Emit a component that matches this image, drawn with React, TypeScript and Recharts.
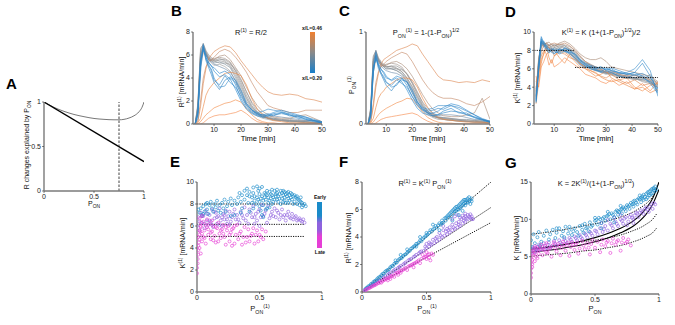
import React from 'react';
import { ComposedChart, Line, Scatter, XAxis, YAxis } from 'recharts';

const FONT = '"Liberation Sans", Arial, Helvetica, sans-serif';

// ---------- Panel A ----------
const A_LIN_P = [0, 1];
const A_LIN_V = [1, 0.33];
const A_CURVE_P = [0, 0.1, 0.2, 0.3, 0.4, 0.5, 0.6, 0.7, 0.75, 0.8, 0.85, 0.9, 0.95, 0.98, 1];
const A_CURVE_V = [1, 0.94, 0.895, 0.86, 0.835, 0.815, 0.805, 0.8, 0.8, 0.805, 0.82, 0.845, 0.89, 0.94, 1];
const A_MARK_P = [0.75, 0.75];
const A_MARK_V = [0, 1];

// ---------- Panels B, C, D (time traces) ----------
const T = [3, 4, 5, 6, 7, 8, 9, 10, 12, 14, 16, 18, 20, 22, 24, 26, 28, 30, 32, 35, 38, 41, 44, 47, 50];
const TRACE_COLORS = ['#939393', '#8f8f8f', '#989898', '#929292', '#969696', '#9d8f86', '#7a8c9a', '#6a8aa8', '#a88a74', '#c48866', '#dc8650', '#ec8540', '#f28a45', '#f5884a', '#3588c8', '#2a86cc', '#3a8cca', '#2f84c4', '#2888ce'];

const B_R = [
  [0, 1.8, 6.4, 7.0, 6.4, 6.0, 5.8, 5.6, 5.5, 5.4, 5.0, 4.2, 3.2, 2.2, 1.4, 0.9, 0.6, 0.5, 0.4, 0.3, 0.3, 0.2, 0.2, 0.1, 0.1],
  [0, 1.5, 6.2, 6.8, 6.2, 5.6, 5.5, 5.4, 5.6, 5.6, 5.3, 4.6, 3.6, 2.5, 1.6, 1.0, 0.7, 0.5, 0.4, 0.3, 0.2, 0.2, 0.2, 0.1, 0.1],
  [0, 1.2, 5.6, 6.6, 6.0, 5.7, 5.3, 5.1, 5.2, 5.0, 4.6, 3.7, 2.6, 1.6, 1.0, 0.7, 0.5, 0.4, 0.3, 0.3, 0.2, 0.2, 0.1, 0.1, 0.1],
  [0, 1.6, 6.6, 6.9, 6.3, 5.9, 5.7, 5.5, 5.7, 5.5, 5.1, 4.4, 3.4, 2.3, 1.5, 1.0, 0.7, 0.5, 0.4, 0.3, 0.2, 0.2, 0.1, 0.1, 0.1],
  [0, 1.3, 6.0, 6.7, 6.1, 5.7, 5.6, 5.5, 5.3, 5.3, 5.2, 4.8, 3.9, 2.8, 1.8, 1.1, 0.7, 0.5, 0.4, 0.3, 0.3, 0.2, 0.2, 0.1, 0.1],
  [0, 1.0, 5.4, 6.4, 6.1, 5.8, 5.6, 5.7, 5.8, 5.7, 5.4, 4.6, 3.8, 2.8, 1.9, 1.3, 0.9, 0.6, 0.5, 0.4, 0.4, 0.3, 0.3, 0.3, 0.2],
  [0, 1.5, 6.0, 6.6, 6.2, 5.8, 5.5, 5.3, 5.4, 5.2, 4.9, 4.0, 3.0, 2.0, 1.3, 0.9, 0.6, 0.5, 0.5, 0.4, 0.3, 0.3, 0.2, 0.2, 0.1],
  [0, 1.2, 5.8, 7.0, 6.0, 5.6, 5.4, 5.2, 5.0, 4.8, 4.5, 3.8, 2.8, 1.8, 1.2, 0.8, 0.6, 0.6, 0.7, 0.6, 0.5, 0.4, 0.3, 0.3, 0.2],
  [0, 1.0, 5.0, 6.2, 6.0, 5.6, 5.5, 5.6, 5.9, 6.0, 5.6, 4.9, 4.2, 3.2, 2.3, 1.6, 1.1, 0.8, 0.6, 0.5, 0.5, 0.7, 0.8, 0.5, 0.2],
  [0, 0.3, 2.0, 4.0, 5.0, 5.4, 5.6, 5.8, 6.3, 6.5, 6.3, 5.8, 5.2, 4.5, 3.6, 2.8, 2.2, 1.6, 1.4, 1.2, 1.0, 1.0, 1.2, 1.2, 1.2],
  [0, 0.2, 1.5, 3.5, 4.8, 5.7, 6.0, 6.3, 6.6, 6.8, 6.7, 6.2, 5.5, 4.9, 4.3, 3.7, 3.2, 2.8, 2.6, 2.5, 2.6, 2.5, 2.2, 2.1, 1.9],
  [0, 0.1, 0.5, 1.5, 2.5, 3.0, 3.3, 3.6, 4.0, 4.4, 4.5, 4.4, 4.2, 3.4, 2.2, 1.3, 0.8, 0.5, 0.3, 0.2, 0.1, 0.1, 0.1, 0.1, 0],
  [0, 0, 0.2, 0.5, 0.8, 1.0, 1.2, 1.4, 1.6, 1.8, 1.9, 2.1, 1.9, 1.3, 0.8, 0.4, 0.2, 0.1, 0.1, 0, 0, 0, 0, 0, 0],
  [0, 0, 0, 0.1, 0.3, 0.5, 0.6, 0.7, 0.8, 0.8, 0.9, 1.0, 1.2, 0.9, 0.5, 0.2, 0.1, 0, 0, 0, 0, 0, 0, 0, 0],
  [0, 0.5, 4.5, 6.8, 5.6, 5.2, 4.6, 3.8, 3.4, 4.2, 3.6, 3.2, 2.4, 1.6, 1.1, 0.9, 0.8, 0.9, 0.7, 1.0, 0.9, 0.7, 0.6, 0.4, 0.2],
  [0, 1.0, 5.5, 6.5, 6.0, 5.4, 5.0, 4.9, 4.4, 4.6, 4.3, 3.4, 2.2, 1.4, 1.0, 0.8, 0.7, 0.8, 1.0, 1.2, 1.0, 0.8, 0.6, 0.3, 0.1],
  [0, 0.8, 5.0, 6.9, 5.8, 5.0, 4.8, 4.0, 3.2, 3.3, 4.0, 3.6, 2.6, 1.7, 1.2, 1.0, 1.1, 1.3, 1.2, 1.1, 0.8, 0.5, 0.4, 0.3, 0.2],
  [0, 0.9, 5.2, 6.7, 5.5, 4.9, 4.3, 3.6, 3.0, 3.8, 4.1, 3.8, 2.9, 1.8, 1.2, 0.9, 0.8, 0.7, 0.8, 0.9, 0.8, 0.6, 0.5, 0.3, 0.1],
  [0, 1.1, 5.6, 6.4, 5.8, 5.3, 5.1, 4.6, 4.1, 4.3, 3.9, 3.0, 2.0, 1.3, 0.9, 0.7, 0.6, 0.7, 0.9, 1.0, 0.7, 0.7, 0.4, 0.2, 0.1],
];

const C_P = [
  [0, 0.18, 0.72, 0.8, 0.72, 0.68, 0.65, 0.63, 0.62, 0.6, 0.57, 0.5, 0.4, 0.29, 0.19, 0.12, 0.08, 0.07, 0.06, 0.05, 0.04, 0.03, 0.03, 0.02, 0.02],
  [0, 0.15, 0.7, 0.78, 0.7, 0.64, 0.63, 0.62, 0.63, 0.63, 0.6, 0.54, 0.44, 0.32, 0.21, 0.14, 0.1, 0.07, 0.06, 0.05, 0.04, 0.03, 0.03, 0.02, 0.02],
  [0, 0.14, 0.66, 0.77, 0.7, 0.66, 0.62, 0.6, 0.6, 0.58, 0.54, 0.46, 0.34, 0.22, 0.14, 0.1, 0.07, 0.05, 0.05, 0.04, 0.03, 0.03, 0.02, 0.02, 0.01],
  [0, 0.16, 0.74, 0.79, 0.71, 0.67, 0.64, 0.62, 0.63, 0.61, 0.57, 0.5, 0.41, 0.3, 0.2, 0.13, 0.09, 0.07, 0.05, 0.04, 0.03, 0.03, 0.02, 0.02, 0.01],
  [0, 0.13, 0.68, 0.76, 0.69, 0.65, 0.63, 0.62, 0.6, 0.6, 0.59, 0.55, 0.46, 0.35, 0.23, 0.14, 0.09, 0.06, 0.05, 0.04, 0.04, 0.03, 0.02, 0.02, 0.01],
  [0, 0.1, 0.62, 0.73, 0.69, 0.66, 0.64, 0.65, 0.66, 0.65, 0.62, 0.54, 0.45, 0.34, 0.24, 0.17, 0.12, 0.08, 0.07, 0.06, 0.05, 0.04, 0.04, 0.04, 0.03],
  [0, 0.15, 0.68, 0.76, 0.7, 0.66, 0.62, 0.6, 0.6, 0.58, 0.55, 0.48, 0.38, 0.27, 0.18, 0.12, 0.08, 0.07, 0.07, 0.06, 0.05, 0.05, 0.04, 0.03, 0.02],
  [0, 0.12, 0.65, 0.8, 0.68, 0.63, 0.6, 0.58, 0.56, 0.55, 0.52, 0.46, 0.36, 0.24, 0.16, 0.11, 0.09, 0.09, 0.1, 0.1, 0.09, 0.07, 0.05, 0.05, 0.03],
  [0, 0.1, 0.56, 0.7, 0.68, 0.64, 0.63, 0.64, 0.67, 0.68, 0.65, 0.6, 0.52, 0.42, 0.32, 0.23, 0.16, 0.12, 0.09, 0.08, 0.08, 0.1, 0.12, 0.28, 0.05],
  [0, 0.03, 0.22, 0.45, 0.57, 0.62, 0.65, 0.68, 0.72, 0.75, 0.78, 0.76, 0.68, 0.58, 0.48, 0.4, 0.34, 0.3, 0.28, 0.28, 0.26, 0.22, 0.2, 0.24, 0.3],
  [0, 0.02, 0.18, 0.4, 0.55, 0.65, 0.7, 0.72, 0.76, 0.8, 0.82, 0.84, 0.87, 0.85, 0.76, 0.68, 0.6, 0.52, 0.48, 0.47, 0.45, 0.46, 0.45, 0.48, 0.46],
  [0, 0.01, 0.06, 0.18, 0.28, 0.33, 0.36, 0.4, 0.44, 0.48, 0.5, 0.5, 0.48, 0.4, 0.28, 0.18, 0.11, 0.07, 0.05, 0.04, 0.03, 0.02, 0.02, 0.02, 0.01],
  [0, 0, 0.02, 0.06, 0.1, 0.13, 0.15, 0.17, 0.2, 0.23, 0.25, 0.28, 0.27, 0.2, 0.13, 0.07, 0.04, 0.02, 0.01, 0.01, 0, 0, 0, 0, 0],
  [0, 0, 0, 0.01, 0.03, 0.05, 0.06, 0.07, 0.08, 0.09, 0.1, 0.11, 0.12, 0.1, 0.06, 0.03, 0.01, 0, 0, 0, 0, 0, 0, 0, 0],
  [0, 0.06, 0.55, 0.75, 0.62, 0.56, 0.5, 0.45, 0.42, 0.48, 0.44, 0.4, 0.3, 0.22, 0.16, 0.14, 0.15, 0.17, 0.16, 0.2, 0.18, 0.14, 0.1, 0.06, 0.03],
  [0, 0.1, 0.6, 0.72, 0.66, 0.6, 0.55, 0.5, 0.48, 0.52, 0.5, 0.42, 0.3, 0.2, 0.15, 0.12, 0.12, 0.14, 0.18, 0.22, 0.2, 0.15, 0.1, 0.05, 0.02],
  [0, 0.08, 0.55, 0.78, 0.64, 0.55, 0.52, 0.46, 0.4, 0.42, 0.5, 0.45, 0.34, 0.24, 0.18, 0.16, 0.17, 0.2, 0.2, 0.2, 0.16, 0.1, 0.07, 0.05, 0.03],
  [0, 0.09, 0.58, 0.74, 0.6, 0.54, 0.48, 0.42, 0.36, 0.44, 0.48, 0.46, 0.37, 0.24, 0.16, 0.12, 0.11, 0.1, 0.12, 0.14, 0.13, 0.1, 0.08, 0.05, 0.02],
  [0, 0.11, 0.62, 0.7, 0.64, 0.59, 0.57, 0.52, 0.47, 0.5, 0.46, 0.37, 0.26, 0.17, 0.12, 0.1, 0.09, 0.1, 0.14, 0.17, 0.12, 0.12, 0.07, 0.04, 0.02],
];

const D_K = [
  [3.4, 7.0, 9.0, 8.7, 8.4, 8.6, 8.3, 8.1, 8.4, 8.2, 8.0, 7.5, 6.9, 6.5, 6.1, 5.8, 5.6, 5.4, 5.6, 5.2, 5.0, 4.8, 5.2, 4.6, 3.6],
  [3.2, 6.6, 8.6, 8.9, 8.5, 8.2, 8.4, 8.6, 8.3, 8.5, 8.1, 7.8, 7.0, 6.6, 6.3, 6.0, 5.7, 5.5, 5.3, 5.1, 5.3, 5.0, 4.6, 4.4, 4.0],
  [3.0, 6.4, 8.8, 8.5, 8.3, 8.4, 8.1, 8.0, 8.2, 8.0, 7.9, 7.3, 6.7, 6.3, 6.0, 5.8, 5.9, 5.6, 5.4, 5.2, 5.0, 5.1, 4.9, 4.7, 4.1],
  [3.1, 6.9, 8.9, 8.7, 8.7, 8.5, 8.6, 8.5, 8.6, 8.5, 8.2, 7.8, 7.2, 6.7, 6.4, 6.1, 5.9, 5.6, 5.5, 5.3, 5.1, 4.9, 4.8, 4.5, 4.2],
  [2.9, 6.3, 8.8, 8.8, 8.6, 8.5, 8.4, 8.3, 8.5, 8.3, 8.1, 7.6, 6.9, 6.5, 6.2, 6.0, 5.8, 5.6, 5.4, 5.2, 5.0, 4.9, 4.7, 4.6, 4.3],
  [3.6, 6.6, 8.5, 8.7, 8.8, 8.6, 8.7, 8.6, 8.7, 8.6, 8.4, 8.0, 7.3, 6.8, 6.5, 6.2, 6.0, 5.8, 5.6, 5.5, 5.4, 5.3, 5.1, 4.9, 4.5],
  [2.8, 6.8, 8.8, 8.4, 8.6, 8.2, 8.0, 8.3, 8.1, 7.9, 7.8, 7.2, 6.6, 6.3, 6.0, 5.9, 5.8, 5.6, 5.5, 5.3, 5.1, 5.0, 4.8, 5.4, 4.2],
  [2.6, 6.2, 9.0, 8.3, 8.1, 7.8, 8.2, 8.0, 7.9, 8.1, 7.7, 7.1, 6.5, 6.2, 6.1, 5.9, 5.7, 5.5, 5.7, 5.4, 5.2, 5.0, 5.3, 4.8, 3.4],
  [3.5, 7.2, 8.4, 8.6, 8.8, 8.9, 8.6, 8.4, 8.8, 9.0, 8.7, 8.2, 7.6, 7.2, 7.0, 7.0, 7.2, 6.8, 6.2, 6.0, 5.8, 5.6, 5.4, 5.2, 4.6],
  [3.8, 6.0, 7.8, 8.6, 8.8, 8.5, 8.7, 8.8, 8.6, 8.8, 8.5, 8.0, 7.4, 6.8, 6.4, 6.2, 6.0, 5.6, 5.8, 5.4, 5.2, 5.3, 5.0, 4.8, 4.4],
  [4.0, 5.5, 7.4, 8.0, 7.6, 7.8, 8.2, 7.4, 7.8, 7.6, 7.2, 7.0, 6.6, 6.0, 5.8, 5.5, 5.2, 5.0, 5.4, 4.8, 4.4, 4.8, 4.2, 4.4, 4.0],
  [2.2, 4.5, 6.6, 7.8, 8.4, 7.2, 6.6, 7.4, 8.0, 7.8, 7.4, 6.8, 6.2, 6.0, 5.6, 5.2, 5.4, 5.8, 5.0, 4.6, 4.2, 3.8, 4.0, 3.4, 3.8],
  [4.6, 5.2, 7.0, 7.6, 8.2, 8.4, 7.8, 8.0, 7.2, 6.6, 7.6, 7.2, 6.5, 6.2, 5.8, 5.6, 5.1, 4.8, 4.6, 4.8, 5.0, 4.0, 3.6, 4.2, 4.4],
  [5.2, 4.0, 6.2, 6.8, 7.6, 6.4, 7.0, 6.2, 6.6, 7.2, 6.8, 6.4, 6.0, 5.4, 5.2, 5.0, 4.6, 4.4, 4.8, 4.2, 4.6, 3.8, 4.4, 3.6, 4.6],
  [2.5, 6.0, 9.2, 8.6, 8.2, 8.0, 7.8, 7.6, 8.2, 8.0, 7.8, 7.6, 7.0, 6.6, 6.4, 6.2, 6.0, 6.1, 5.8, 5.6, 5.4, 5.6, 6.6, 5.2, 3.5],
  [3.0, 6.5, 9.5, 8.8, 8.4, 7.9, 8.1, 7.9, 7.7, 8.3, 8.0, 7.4, 6.8, 6.4, 6.2, 6.0, 6.2, 5.8, 5.6, 5.2, 5.0, 5.4, 5.0, 4.6, 3.8],
  [2.4, 5.8, 9.3, 8.7, 8.0, 7.7, 8.0, 8.2, 7.6, 7.9, 7.6, 7.0, 6.4, 6.1, 6.3, 5.9, 5.6, 5.7, 6.0, 5.5, 5.6, 6.0, 7.0, 5.8, 3.0],
  [2.7, 6.1, 9.0, 9.0, 8.5, 8.2, 7.9, 7.7, 7.9, 8.2, 8.0, 7.6, 6.9, 6.5, 6.2, 6.1, 6.2, 5.9, 6.1, 5.8, 5.5, 5.3, 5.5, 5.0, 3.9],
  [2.3, 5.9, 8.9, 8.6, 8.3, 8.1, 8.2, 8.0, 8.1, 7.9, 7.7, 7.2, 6.7, 6.3, 6.0, 5.8, 5.7, 6.0, 5.8, 5.6, 5.4, 5.6, 5.2, 4.4, 3.3],
];

// plateau levels of K(1) (early, middle, late) and their time spans
const LEVELS = [8.0, 6.15, 5.05];
const D_LEVEL_SPANS = [[2.3, 18], [18, 33.5], [34, 50]];
const E_LEVEL_SPAN = [0, 0.86];

// ---------- Panel E: K(1) vs P_ON(1) ----------
const E_BLUE = [
  [0.02, 7.2], [0.03, 7.6], [0.04, 6.9], [0.05, 7.8], [0.06, 7.3], [0.07, 8.0], [0.08, 7.5], [0.09, 7.1], [0.1, 7.9], [0.11, 8.2], [0.12, 7.6], [0.13, 7.3], [0.14, 8.0], [0.15, 7.7], [0.16, 8.3], [0.17, 7.4], [0.18, 7.9], [0.2, 8.1], [0.21, 7.6], [0.22, 8.4], [0.24, 7.8], [0.25, 8.2], [0.27, 8.5], [0.28, 7.9], [0.3, 8.3], [0.32, 8.0], [0.33, 8.6], [0.35, 8.2], [0.36, 7.6], [0.38, 8.4], [0.4, 8.8], [0.41, 8.1], [0.42, 7.3], [0.44, 8.6], [0.45, 9.0], [0.46, 8.3],
  [0.38, 9.2], [0.4, 9.4], [0.42, 9.1], [0.45, 9.5], [0.48, 9.6], [0.5, 9.4], [0.52, 9.55], [0.49, 9.2],
  [0.48, 8.6], [0.5, 8.9], [0.5, 8.2], [0.52, 8.7], [0.53, 7.9], [0.54, 9.0], [0.55, 8.4], [0.56, 8.8], [0.57, 8.1], [0.58, 9.1], [0.59, 8.5], [0.6, 8.8], [0.6, 8.0], [0.62, 9.2], [0.62, 8.4], [0.63, 8.7], [0.64, 9.0], [0.65, 8.2], [0.66, 8.9], [0.67, 9.2], [0.68, 8.5], [0.69, 8.8], [0.7, 9.1], [0.7, 8.3], [0.72, 8.7], [0.72, 9.0], [0.73, 8.1], [0.74, 8.8], [0.75, 9.0], [0.76, 8.4], [0.77, 8.7], [0.78, 8.2], [0.79, 8.6], [0.8, 8.0], [0.81, 8.4], [0.82, 7.9], [0.83, 8.2], [0.84, 7.7], [0.85, 7.9],
  [0.5, 7.8], [0.51, 7.4], [0.52, 7.0], [0.53, 6.8], [0.55, 7.5], [0.56, 7.6], [0.58, 7.7], [0.35, 7.2], [0.3, 7.0], [0.27, 6.9], [0.45, 7.6],
  [0.46, 8.7], [0.47, 8.0], [0.49, 8.4], [0.51, 8.5], [0.53, 8.3], [0.54, 8.6], [0.55, 8.9], [0.57, 8.6], [0.58, 8.3], [0.59, 8.9], [0.61, 8.6], [0.61, 8.2], [0.63, 8.9], [0.64, 8.4], [0.65, 8.7], [0.66, 8.5], [0.67, 8.0], [0.68, 9.0], [0.69, 8.2], [0.7, 8.6], [0.71, 8.9], [0.71, 8.1], [0.73, 8.5], [0.74, 8.3], [0.75, 8.6], [0.76, 8.9], [0.77, 8.0], [0.78, 8.8], [0.8, 8.5], [0.8, 8.7], [0.82, 8.3], [0.83, 8.6], [0.84, 8.1], [0.86, 8.0], [0.87, 7.8], [0.56, 9.2], [0.6, 9.3], [0.64, 9.3], [0.69, 9.2], [0.73, 9.1], [0.44, 8.1], [0.42, 8.7], [0.36, 8.8], [0.34, 9.0],
  [0.01, 7.5], [0.05, 7.1], [0.08, 8.1], [0.19, 7.2], [0.23, 7.3],
];
const E_PURPLE = [
  [0.0, 6.0], [0.01, 6.8], [0.02, 5.6], [0.03, 7.2], [0.04, 6.3], [0.05, 6.9], [0.06, 5.8], [0.07, 7.4], [0.08, 6.5], [0.09, 6.1], [0.1, 7.0], [0.11, 6.4], [0.12, 7.5], [0.13, 5.9], [0.14, 6.7], [0.15, 7.2], [0.16, 6.2], [0.17, 6.9], [0.18, 7.6], [0.19, 6.5], [0.2, 6.0], [0.21, 7.1], [0.22, 6.6], [0.23, 7.4], [0.24, 6.2], [0.25, 6.9], [0.26, 7.3], [0.27, 6.4], [0.28, 6.8], [0.3, 7.5], [0.31, 6.6], [0.32, 7.0], [0.34, 6.3], [0.35, 7.3], [0.37, 6.7], [0.38, 7.7], [0.4, 7.0], [0.41, 6.2], [0.42, 7.5], [0.44, 6.8], [0.45, 7.8], [0.47, 7.1], [0.48, 6.5], [0.5, 7.5], [0.52, 7.9], [0.53, 6.9], [0.55, 7.4], [0.57, 7.8], [0.58, 6.7], [0.6, 7.3], [0.62, 7.6], [0.63, 6.8], [0.65, 7.2], [0.66, 6.6], [0.68, 7.5], [0.7, 7.0], [0.71, 6.5], [0.73, 7.3], [0.74, 6.8], [0.76, 7.1], [0.77, 6.6], [0.79, 6.9], [0.8, 6.5], [0.82, 6.7], [0.84, 6.4], [0.86, 6.3], [0.56, 6.3], [0.5, 6.0], [0.46, 6.2],
  [0.02, 6.4], [0.04, 7.0], [0.06, 6.2], [0.08, 7.1], [0.1, 6.5], [0.12, 6.1], [0.14, 7.3], [0.16, 6.8], [0.18, 6.1], [0.2, 6.8], [0.22, 7.0], [0.24, 6.6], [0.26, 6.1], [0.29, 7.1], [0.33, 6.6], [0.36, 7.0], [0.39, 6.5], [0.43, 7.2], [0.46, 6.8], [0.49, 7.3], [0.51, 6.8], [0.54, 7.1], [0.59, 7.0], [0.61, 6.9], [0.64, 7.4], [0.67, 7.0], [0.69, 6.8], [0.72, 7.0], [0.75, 6.7], [0.78, 6.8], [0.81, 6.6], [0.83, 6.5], [0.85, 6.6],
];
const E_MAGENTA = [
  [0, 1.7], [0, 2.2], [0.005, 2.6], [0.005, 3.0], [0.01, 3.4], [0.01, 3.8], [0.01, 4.2], [0.015, 4.5], [0.02, 4.8], [0.02, 5.2], [0.025, 5.5], [0.03, 5.9], [0.03, 6.3], [0.02, 6.7], [0.04, 6.9],
  [0.04, 4.6], [0.05, 5.0], [0.06, 5.6], [0.07, 4.4], [0.08, 5.9], [0.09, 5.2], [0.1, 6.2], [0.11, 4.8], [0.12, 5.5], [0.13, 6.0], [0.14, 5.1], [0.15, 4.5], [0.16, 5.8], [0.17, 6.3], [0.18, 5.3], [0.19, 4.9], [0.2, 5.7], [0.21, 6.1], [0.22, 5.0], [0.23, 4.3], [0.24, 5.6], [0.25, 6.0], [0.26, 4.6], [0.27, 5.4], [0.28, 4.2], [0.29, 5.8], [0.3, 4.4], [0.31, 5.2], [0.32, 6.1], [0.33, 4.8], [0.35, 5.5], [0.36, 4.3], [0.38, 5.9], [0.4, 5.0], [0.41, 5.7], [0.42, 4.6], [0.44, 5.3], [0.45, 5.8], [0.46, 4.4], [0.48, 5.6], [0.5, 5.2], [0.52, 5.7], [0.53, 4.8], [0.55, 5.5], [0.05, 6.4], [0.08, 6.6], [0.12, 6.5], [0.02, 4.0], [0.03, 3.5],
  [0.01, 5.0], [0.02, 5.6], [0.03, 6.0], [0.04, 5.3], [0.06, 4.9], [0.07, 6.1], [0.09, 5.7], [0.11, 5.4], [0.13, 4.7], [0.15, 5.9], [0.17, 4.6], [0.19, 5.6], [0.21, 5.3], [0.23, 5.9], [0.26, 5.2], [0.28, 5.7], [0.3, 6.0], [0.34, 5.3], [0.37, 5.0], [0.39, 4.5], [0.43, 5.1], [0.47, 5.2], [0.49, 4.6], [0.51, 5.0],
];

// ---------- Panel F: R(1) vs P_ON(1) ----------
const F_BLUE = [
  [0.02, 0.15], [0.04, 0.32], [0.05, 0.42], [0.06, 0.45], [0.08, 0.62], [0.1, 0.8], [0.11, 0.86], [0.12, 0.98], [0.14, 1.1], [0.15, 1.22], [0.17, 1.35], [0.18, 1.48], [0.2, 1.6], [0.21, 1.66], [0.22, 1.8], [0.24, 1.9], [0.25, 2.05], [0.27, 2.15], [0.28, 2.3], [0.3, 2.45], [0.31, 2.5], [0.33, 2.7], [0.34, 2.75], [0.36, 2.95], [0.37, 3.0], [0.38, 3.15], [0.4, 3.3], [0.41, 3.35], [0.42, 3.5], [0.44, 3.6], [0.45, 3.75], [0.46, 3.7], [0.48, 3.95], [0.5, 4.1], [0.5, 4.3], [0.52, 4.3], [0.53, 4.5], [0.54, 4.4], [0.56, 4.6], [0.57, 4.8], [0.58, 4.7], [0.6, 5.0], [0.61, 4.9], [0.62, 5.2], [0.63, 5.05], [0.64, 5.35], [0.65, 5.2], [0.66, 5.5], [0.67, 5.4], [0.68, 5.7], [0.69, 5.5], [0.7, 5.9], [0.71, 5.7], [0.72, 6.1], [0.73, 5.9], [0.74, 6.2], [0.75, 6.0], [0.76, 6.4], [0.77, 6.2], [0.78, 6.6], [0.79, 6.4], [0.8, 6.7], [0.8, 6.3], [0.81, 6.5], [0.82, 6.8], [0.83, 6.6], [0.84, 6.4], [0.85, 6.6], [0.3, 2.7], [0.35, 3.1], [0.45, 4.0], [0.55, 4.9], [0.42, 3.3], [0.26, 2.3], [0.6, 4.5], [0.7, 5.2], [0.75, 5.6], [0.78, 5.9],
  [0.03, 0.26], [0.07, 0.58], [0.09, 0.74], [0.13, 1.06], [0.16, 1.32], [0.19, 1.55], [0.23, 1.88], [0.26, 2.12], [0.29, 2.4], [0.32, 2.62], [0.35, 2.85], [0.39, 3.2], [0.43, 3.5], [0.47, 3.85], [0.49, 4.05], [0.51, 4.2], [0.55, 4.55], [0.59, 4.85], [0.62, 5.0], [0.65, 5.4], [0.67, 5.6], [0.69, 5.8], [0.72, 5.85], [0.74, 6.0], [0.76, 6.1], [0.78, 6.3], [0.8, 6.5], [0.81, 6.7], [0.82, 6.5], [0.84, 6.7], [0.85, 6.8], [0.83, 6.9], [0.79, 6.7], [0.77, 6.5], [0.75, 6.3], [0.73, 6.2], [0.71, 6.0],
];
const F_PURPLE = [
  [0.03, 0.2], [0.06, 0.38], [0.08, 0.5], [0.1, 0.62], [0.12, 0.78], [0.14, 0.86], [0.16, 1.0], [0.18, 1.15], [0.2, 1.25], [0.22, 1.4], [0.24, 1.5], [0.26, 1.65], [0.28, 1.75], [0.3, 1.9], [0.32, 2.0], [0.34, 2.15], [0.36, 2.3], [0.38, 2.4], [0.4, 2.55], [0.42, 2.7], [0.44, 2.8], [0.46, 2.95], [0.48, 3.0], [0.5, 3.2], [0.5, 3.5], [0.52, 3.3], [0.52, 3.6], [0.54, 3.45], [0.55, 3.8], [0.56, 3.55], [0.58, 3.7], [0.58, 4.0], [0.6, 3.8], [0.6, 4.3], [0.62, 4.0], [0.63, 4.5], [0.64, 4.1], [0.65, 4.4], [0.66, 4.2], [0.68, 4.35], [0.68, 4.7], [0.7, 4.5], [0.7, 4.9], [0.72, 4.6], [0.73, 5.0], [0.74, 4.7], [0.75, 5.1], [0.76, 4.8], [0.77, 5.3], [0.78, 5.0], [0.79, 5.4], [0.8, 5.1], [0.8, 5.5], [0.82, 5.3], [0.82, 5.6], [0.84, 5.4], [0.85, 5.5], [0.86, 5.3], [0.7, 5.3], [0.72, 5.5], [0.74, 5.6], [0.63, 4.8], [0.66, 4.6],
  [0.04, 0.28], [0.09, 0.56], [0.13, 0.82], [0.17, 1.08], [0.21, 1.32], [0.25, 1.58], [0.29, 1.82], [0.33, 2.08], [0.37, 2.35], [0.41, 2.6], [0.45, 2.9], [0.49, 3.3], [0.53, 3.5], [0.57, 3.9], [0.61, 4.1], [0.67, 4.5], [0.71, 4.7], [0.75, 4.9], [0.79, 5.2], [0.81, 5.35], [0.83, 5.5], [0.85, 5.3], [0.76, 5.4], [0.78, 5.55], [0.8, 5.7], [0.84, 5.65],
];
const F_MAGENTA = [
  [0.02, 0.1], [0.04, 0.22], [0.06, 0.3], [0.08, 0.42], [0.1, 0.5], [0.12, 0.62], [0.14, 0.7], [0.16, 0.8], [0.18, 0.92], [0.2, 1.0], [0.22, 1.12], [0.24, 1.2], [0.26, 1.35], [0.28, 1.42], [0.3, 1.55], [0.32, 1.62], [0.34, 1.75], [0.36, 1.85], [0.38, 1.95], [0.4, 2.05], [0.42, 2.15], [0.44, 2.3], [0.46, 2.4], [0.48, 2.5], [0.5, 2.6], [0.52, 2.75], [0.54, 2.8], [0.55, 2.7], [0.5, 2.4], [0.45, 2.1], [0.4, 1.8], [0.35, 1.6], [0.3, 1.4], [0.25, 1.1], [0.2, 0.85], [0.15, 0.68], [0.5, 2.9], [0.52, 2.5], [0.47, 2.7], [0.53, 2.3], [0.28, 1.25], [0.22, 0.95],
  [0.03, 0.16], [0.05, 0.26], [0.07, 0.36], [0.09, 0.46], [0.11, 0.56], [0.13, 0.66], [0.17, 0.86], [0.19, 0.96], [0.21, 1.06], [0.23, 1.16], [0.27, 1.38], [0.29, 1.5], [0.31, 1.58], [0.33, 1.7], [0.37, 1.9], [0.39, 2.0], [0.41, 2.1], [0.43, 2.22], [0.49, 2.55], [0.51, 2.7],
];
const F_SLOPES = [8.0, 6.15, 5.05];

// ---------- Panel G: K vs P_ON ----------
const G_BLUE = [
  [0.0, 7.2], [0.02, 8.0], [0.03, 6.8], [0.05, 7.6], [0.06, 8.3], [0.08, 7.0], [0.1, 7.8], [0.12, 8.5], [0.14, 7.3], [0.15, 8.0], [0.17, 8.6], [0.19, 7.5], [0.2, 8.2], [0.22, 8.8], [0.24, 7.8], [0.25, 8.4], [0.27, 9.0], [0.29, 8.1], [0.3, 8.6], [0.32, 7.9], [0.34, 8.8], [0.36, 8.3], [0.38, 9.1], [0.4, 8.6], [0.42, 9.4], [0.44, 8.9], [0.46, 9.6], [0.48, 9.2], [0.5, 9.8], [0.52, 9.3], [0.54, 10.0], [0.55, 9.5], [0.57, 10.3], [0.58, 9.8], [0.6, 10.5], [0.62, 10.0], [0.63, 10.8], [0.65, 10.3], [0.66, 11.0], [0.68, 10.6], [0.7, 11.3], [0.71, 10.8], [0.72, 11.6], [0.74, 11.1], [0.75, 11.9], [0.77, 11.4], [0.78, 12.2], [0.8, 11.7], [0.81, 12.5], [0.83, 12.0], [0.84, 12.8], [0.86, 12.3], [0.87, 13.1], [0.88, 12.6], [0.9, 13.4], [0.91, 12.9], [0.92, 13.7], [0.93, 13.2], [0.94, 14.0], [0.95, 13.5], [0.96, 14.2], [0.97, 13.8], [0.6, 11.0], [0.7, 11.8], [0.8, 12.4], [0.85, 13.2], [0.5, 10.2], [0.4, 9.2], [0.3, 9.0], [0.2, 8.8], [0.65, 9.6], [0.55, 8.8], [0.45, 8.4], [0.01, 6.3], [0.04, 6.0], [0.07, 6.5],
  [0.51, 9.9], [0.53, 10.2], [0.56, 10.1], [0.59, 10.4], [0.61, 10.7], [0.64, 10.6], [0.67, 11.2], [0.69, 11.0], [0.73, 11.4], [0.76, 11.7], [0.79, 12.0], [0.82, 12.2], [0.85, 12.7], [0.87, 12.8], [0.89, 13.0], [0.9, 12.7], [0.92, 13.2], [0.93, 13.8], [0.94, 13.4], [0.95, 14.1], [0.96, 13.9], [0.97, 14.4], [0.98, 14.0], [0.91, 13.6], [0.88, 13.3], [0.86, 12.9], [0.83, 12.6], [0.8, 12.1], [0.77, 11.9], [0.74, 11.6], [0.71, 11.4], [0.68, 11.1], [0.26, 7.6], [0.33, 8.4], [0.37, 7.8], [0.41, 8.2], [0.43, 8.8], [0.47, 9.0],
];
const G_PURPLE = [
  [0.0, 5.5], [0.02, 6.2], [0.04, 5.8], [0.06, 6.6], [0.08, 6.0], [0.1, 6.8], [0.12, 6.2], [0.14, 6.9], [0.16, 6.4], [0.18, 7.1], [0.2, 6.5], [0.22, 7.2], [0.24, 6.7], [0.26, 7.4], [0.28, 6.8], [0.3, 7.5], [0.32, 7.0], [0.34, 7.7], [0.36, 7.2], [0.38, 7.9], [0.4, 7.4], [0.42, 8.1], [0.44, 7.6], [0.46, 8.3], [0.48, 7.8], [0.5, 8.5], [0.52, 8.0], [0.54, 8.8], [0.56, 8.3], [0.58, 9.1], [0.6, 8.5], [0.62, 9.4], [0.64, 8.8], [0.66, 9.7], [0.68, 9.1], [0.7, 10.0], [0.72, 9.4], [0.74, 10.3], [0.76, 9.7], [0.78, 10.6], [0.8, 10.0], [0.82, 10.9], [0.84, 10.3], [0.86, 11.2], [0.88, 10.7], [0.9, 11.6], [0.92, 11.0], [0.94, 12.0], [0.95, 11.4], [0.96, 12.2], [0.55, 9.5], [0.6, 9.9], [0.65, 10.2], [0.7, 10.6], [0.75, 9.2], [0.8, 9.5],
  [0.01, 6.0], [0.03, 5.6], [0.05, 6.3], [0.07, 5.9], [0.09, 6.4], [0.11, 6.0], [0.13, 6.6], [0.15, 6.1], [0.19, 6.7], [0.23, 6.9], [0.27, 7.1], [0.31, 7.3], [0.35, 7.5], [0.39, 7.6], [0.43, 7.9], [0.47, 8.1], [0.51, 8.4], [0.57, 8.7], [0.63, 9.2], [0.67, 9.4], [0.71, 9.8], [0.73, 10.1], [0.77, 10.3], [0.79, 10.2], [0.81, 10.5], [0.83, 10.8], [0.85, 10.9], [0.87, 11.0], [0.89, 11.4], [0.91, 11.3], [0.93, 11.7], [0.97, 12.0],
];
const G_MAGENTA = [
  [0.0, 2.2], [0.0, 2.8], [0.0, 3.4], [0.01, 4.0], [0.01, 4.6], [0.02, 5.2], [0.02, 5.8], [0.03, 6.4], [0.04, 5.0], [0.05, 6.0], [0.06, 5.4], [0.08, 6.6], [0.09, 5.2], [0.1, 5.9], [0.12, 6.8], [0.13, 5.5], [0.15, 6.2], [0.16, 5.0], [0.18, 6.9], [0.2, 5.7], [0.22, 6.4], [0.23, 5.2], [0.25, 7.0], [0.27, 5.8], [0.28, 6.5], [0.3, 5.1], [0.32, 6.9], [0.34, 5.9], [0.35, 6.6], [0.37, 5.4], [0.4, 7.1], [0.42, 6.0], [0.44, 6.8], [0.46, 5.3], [0.48, 7.2], [0.5, 6.2], [0.52, 7.0], [0.54, 5.6], [0.56, 7.3], [0.58, 6.4], [0.6, 7.1], [0.62, 5.5], [0.64, 7.4], [0.66, 6.6], [0.68, 7.2], [0.7, 5.8], [0.72, 7.5], [0.74, 6.8], [0.76, 7.3], [0.78, 6.5], [0.03, 4.4], [0.05, 4.8],
  [0.01, 5.4], [0.02, 6.0], [0.03, 5.5], [0.04, 6.2], [0.06, 5.8], [0.07, 6.3], [0.09, 6.0], [0.11, 6.4], [0.12, 5.6], [0.14, 6.0], [0.17, 6.5], [0.19, 6.1], [0.21, 6.7], [0.24, 6.2], [0.26, 6.6], [0.29, 6.9], [0.31, 6.3], [0.33, 6.6], [0.36, 6.9], [0.38, 6.1], [0.41, 6.5], [0.45, 6.2], [0.47, 6.7], [0.55, 6.6], [0.59, 6.9], [0.63, 6.8], [0.67, 7.0], [0.71, 6.9], [0.75, 7.0], [0.0, 4.2], [0.01, 3.6], [0.0, 4.8],
];
const G_CURVE_P = [0, 0.1, 0.2, 0.3, 0.4, 0.5, 0.6, 0.7, 0.8, 0.85, 0.9, 0.95, 0.98];
const G_DOT_1 = [8.0, 8.2, 8.45, 8.75, 9.1, 9.4, 9.8, 10.3, 11.0, 11.5, 12.1, 13.0, 13.8];
const G_DOT_2 = [6.15, 6.3, 6.5, 6.7, 7.0, 7.2, 7.5, 7.9, 8.5, 8.85, 9.35, 10.0, 10.7];
const G_DOT_3 = [5.05, 5.2, 5.35, 5.5, 5.75, 5.9, 6.2, 6.5, 7.0, 7.3, 7.7, 8.2, 8.8];
const G_SOLID_P = [0, 0.1, 0.2, 0.3, 0.4, 0.5, 0.6, 0.7, 0.8, 0.85, 0.9, 0.95, 1.0];
const G_SOLID_1 = [6.0, 6.2, 6.45, 6.75, 7.1, 7.55, 8.1, 8.8, 9.8, 10.5, 11.5, 12.8, 15.0];
const G_SOLID_2 = [5.6, 5.8, 6.0, 6.3, 6.6, 7.0, 7.5, 8.2, 9.1, 9.8, 10.7, 12.0, 14.0];

const C_BLUE = '#1a8bc9';
const C_PURPLE = '#8f62de';
const C_MAGENTA = '#e63fd6';

// ---------- helpers ----------
const pts = (xs: number[], ys: number[]) => xs.map((x, i) => ({ x, y: ys[i] }));
const pairs = (arr: number[][]) => arr.map(([x, y]) => ({ x, y }));
const traceTable = (traces: number[][]) =>
  T.map((t, i) => {
    const row: any = { x: t };
    traces.forEach((tr, k) => (row['s' + k] = tr[i]));
    return row;
  });

const ring = (color: string) => (props: any) =>
  <circle cx={props.cx} cy={props.cy} r={1.5} fill="none" stroke={color} strokeWidth={0.65} />;

const axisStyle = {
  axisLine: { stroke: '#7a7a7a', strokeWidth: 1.4 },
  tickLine: { stroke: '#333', strokeWidth: 0.6 },
  tickSize: 2,
  tickMargin: 1,
  tick: { fontSize: 7, fill: '#222', fontFamily: FONT },
  interval: 0 as const,
};

function Frame(props: any) {
  const { box, xDomain, yDomain, xTicks, yTicks, data, children, yKey } = props;
  const [x0, y0, x1, y1] = box;
  const ML = 30, MT = 6, MR = 6, XH = 16;
  return (
    <div style={{ position: 'absolute', left: x0 - ML, top: y0 - MT }}>
      <ComposedChart width={x1 - x0 + ML + MR} height={y1 - y0 + MT + XH} data={data}
        margin={{ top: MT, right: MR, left: 0, bottom: 0 }}>
        <XAxis type="number" dataKey="x" domain={xDomain} ticks={xTicks} height={XH} allowDataOverflow {...axisStyle} />
        <YAxis type="number" dataKey={yKey} domain={yDomain} ticks={yTicks} width={ML} allowDataOverflow {...axisStyle} />
        {children}
      </ComposedChart>
    </div>
  );
}

type Part = [string, string?];
function Rich(props: any) {
  const { x, y, parts, size = 7, anchor = 'middle', rotate = false, weight = 'normal' } = props;
  let cur = 0;
  const spans = (parts as Part[]).map(([s, k], i) => {
    const target = k === 'sub' ? size * 0.35 : k === 'sup' ? -size * 0.42 : 0;
    const dy = target - cur;
    cur = target;
    return <tspan key={i} dy={dy} fill="#111" fontSize={k ? size * 0.7 : size}>{s}</tspan>;
  });
  return (
    <text transform={`translate(${x},${y})${rotate ? ' rotate(-90)' : ''}`} textAnchor={anchor}
      fontFamily={FONT} fontSize={size} fontWeight={weight} fill="#111">{spans}</text>
  );
}

function Plain(props: any) {
  const { x, y, children } = props;
  return <text x={x} y={y} textAnchor="middle" fontFamily={FONT} fontSize={7.5} fontWeight="normal" fill="#000">{children}</text>;
}

const dotted = { stroke: '#111', strokeWidth: 1, strokeDasharray: '1.2 1.2' };

function traceLines(traces: number[][]) {
  return traces.map((_, k) => (
    <Line key={k} dataKey={'s' + k} stroke={TRACE_COLORS[k]} strokeWidth={0.65} strokeOpacity={0.95} dot={false}
      isAnimationActive={false} type="linear" />
  ));
}

export default function App() {
  const bData = traceTable(B_R);
  const cData = traceTable(C_P);
  const dData = traceTable(D_K);
  const xT = [10, 20, 30, 40, 50];
  return (
    <div style={{ position: 'absolute', left: 0, top: 0, width: 675, height: 325, background: '#fff', fontFamily: FONT }}>
      {/* A */}
      <Frame box={[44, 102, 144, 191]} xDomain={[0, 1]} yDomain={[0, 1]} xTicks={[0, 0.5, 1]} yTicks={[0, 0.5, 1]} yKey="y">
        <Line data={pts(A_CURVE_P, A_CURVE_V)} dataKey="y" stroke="#555" strokeWidth={0.8} dot={false} type="monotone" isAnimationActive={false} />
        <Line data={pts(A_LIN_P, A_LIN_V)} dataKey="y" stroke="#000" strokeWidth={1.3} dot={false} isAnimationActive={false} />
        <Line data={pts(A_MARK_P, A_MARK_V)} dataKey="y" stroke="#111" strokeWidth={0.8} strokeDasharray="2.5 1.5" dot={false} isAnimationActive={false} />
      </Frame>

      {/* B */}
      <Frame box={[193, 32, 322, 124]} data={bData} xDomain={[2.2, 50]} yDomain={[0, 8]} xTicks={xT} yTicks={[0, 2, 4, 6, 8]}>
        {traceLines(B_R)}
      </Frame>

      {/* C */}
      <Frame box={[366, 32, 490, 124]} data={cData} xDomain={[2.2, 50]} yDomain={[0, 1]} xTicks={xT} yTicks={[0, 1]}>
        {traceLines(C_P)}
      </Frame>

      {/* D */}
      <Frame box={[534, 32, 658, 124]} data={dData} xDomain={[2.2, 50]} yDomain={[0, 10]} xTicks={xT} yTicks={[0, 2, 4, 6, 8, 10]}>
        {traceLines(D_K)}
        {LEVELS.map((lv, i) => (
          <Line key={'lv' + i} data={pts(D_LEVEL_SPANS[i], [lv, lv])} dataKey="y" {...dotted} dot={false} isAnimationActive={false} />
        ))}
      </Frame>

      {/* E */}
      <Frame box={[197, 182, 322, 292]} xDomain={[0, 1]} yDomain={[0, 10]} xTicks={[0, 0.5, 1]} yTicks={[0, 2, 4, 6, 8, 10]} yKey="y">
        <Scatter data={pairs(E_PURPLE)} dataKey="y" shape={ring(C_PURPLE)} isAnimationActive={false} />
        <Scatter data={pairs(E_BLUE)} dataKey="y" shape={ring(C_BLUE)} isAnimationActive={false} />
        <Scatter data={pairs(E_MAGENTA)} dataKey="y" shape={ring(C_MAGENTA)} isAnimationActive={false} />
        {LEVELS.map((lv, i) => (
          <Line key={'el' + i} data={pts(E_LEVEL_SPAN, [lv, lv])} dataKey="y" {...dotted} dot={false} isAnimationActive={false} />
        ))}
      </Frame>

      {/* F */}
      <Frame box={[362, 182, 491, 292]} xDomain={[0, 1]} yDomain={[0, 8]} xTicks={[0, 0.5, 1]} yTicks={[0, 2, 4, 6, 8]} yKey="y">
        <Scatter data={pairs(F_PURPLE)} dataKey="y" shape={ring(C_PURPLE)} isAnimationActive={false} />
        <Scatter data={pairs(F_BLUE)} dataKey="y" shape={ring(C_BLUE)} isAnimationActive={false} />
        <Scatter data={pairs(F_MAGENTA)} dataKey="y" shape={ring(C_MAGENTA)} isAnimationActive={false} />
        {F_SLOPES.map((s, i) => (
          <Line key={'fs' + i} data={pts([0, 1], [0, s])} dataKey="y" {...dotted} dot={false} isAnimationActive={false} />
        ))}
      </Frame>

      {/* G */}
      <Frame box={[531, 182, 659, 294]} xDomain={[0, 1]} yDomain={[0, 15]} xTicks={[0, 0.5, 1]} yTicks={[0, 5, 10, 15]} yKey="y">
        <Scatter data={pairs(G_PURPLE)} dataKey="y" shape={ring(C_PURPLE)} isAnimationActive={false} />
        <Scatter data={pairs(G_BLUE)} dataKey="y" shape={ring(C_BLUE)} isAnimationActive={false} />
        <Scatter data={pairs(G_MAGENTA)} dataKey="y" shape={ring(C_MAGENTA)} isAnimationActive={false} />
        <Line data={pts(G_CURVE_P, G_DOT_1)} dataKey="y" {...dotted} dot={false} type="monotone" isAnimationActive={false} />
        <Line data={pts(G_CURVE_P, G_DOT_2)} dataKey="y" {...dotted} dot={false} type="monotone" isAnimationActive={false} />
        <Line data={pts(G_CURVE_P, G_DOT_3)} dataKey="y" {...dotted} dot={false} type="monotone" isAnimationActive={false} />
        <Line data={pts(G_SOLID_P, G_SOLID_1)} dataKey="y" stroke="#000" strokeWidth={1.1} dot={false} type="monotone" isAnimationActive={false} />
        <Line data={pts(G_SOLID_P, G_SOLID_2)} dataKey="y" stroke="#000" strokeWidth={1.1} dot={false} type="monotone" isAnimationActive={false} />
      </Frame>

      {/* overlay text */}
      <svg width={675} height={325} style={{ position: 'absolute', left: 0, top: 0, pointerEvents: 'none' }}>
        <defs>
          <linearGradient id="gradB" x1="0" y1="0" x2="0" y2="1">
            <stop offset="0" stopColor="#f08030" />
            <stop offset="0.5" stopColor="#8a8a8a" />
            <stop offset="1" stopColor="#1a7fc8" />
          </linearGradient>
          <linearGradient id="gradE" x1="0" y1="0" x2="0" y2="1">
            <stop offset="0" stopColor={C_BLUE} />
            <stop offset="0.3" stopColor={C_BLUE} />
            <stop offset="0.45" stopColor={C_PURPLE} />
            <stop offset="0.6" stopColor={C_PURPLE} />
            <stop offset="0.75" stopColor={C_MAGENTA} />
            <stop offset="1" stopColor={C_MAGENTA} />
          </linearGradient>
        </defs>
        {[['A', 6, 89], ['B', 171, 16], ['C', 339, 16], ['D', 505, 17], ['E', 170, 167], ['F', 339, 167], ['G', 505, 168]].map(([l, x, y]) => (
          <text key={l as string} x={x as number} y={y as number} fontFamily={FONT} fontSize={15} fontWeight="bold" fill="#000">{l}</text>
        ))}

        <Rich x={29} y={145} rotate parts={[['R changes explained by P'], ['ON', 'sub']]} />
        <Rich x={94} y={206} parts={[['P'], ['ON', 'sub']]} />

        <Rich x={251} y={35} size={7.5} parts={[['R'], ['(1)', 'sup'], [' = R/2']]} />
        <Rich x={184} y={82} rotate parts={[['R'], ['(1)', 'sup'], [' [mRNA/min]']]} />
        <Plain x={258} y={141}>Time [min]</Plain>
        <rect x={310} y={32} width={5} height={41} fill="url(#gradB)" />
        <Rich x={312} y={30} size={5} weight="bold" parts={[['x/L=0.46']]} />
        <Rich x={312} y={80} size={5} weight="bold" parts={[['x/L=0.20']]} />

        <Rich x={426} y={35} size={7.5} parts={[['P'], ['ON', 'sub'], ['(1)', 'sup'], [' = 1-(1-P'], ['ON', 'sub'], [')'], ['1/2', 'sup']]} />
        <Rich x={354} y={85} rotate parts={[['P'], ['ON', 'sub'], ['(1)', 'sup']]} />
        <Plain x={428} y={141}>Time [min]</Plain>

        <Rich x={601} y={35} size={7.5} parts={[['K'], ['(1)', 'sup'], [' = K (1+(1-P'], ['ON', 'sub'], [')'], ['1/2', 'sup'], [')/2']]} />
        <Rich x={520} y={78} rotate parts={[['K'], ['(1)', 'sup'], [' [mRNA/min]']]} />
        <Plain x={596} y={141}>Time [min]</Plain>

        <Rich x={185} y={243} rotate parts={[['K'], ['(1)', 'sup'], [' [mRNA/min]']]} />
        <Rich x={260} y={311} size={7.5} parts={[['P'], ['ON', 'sub'], ['(1)', 'sup']]} />
        <rect x={317} y={202} width={5} height={46} fill="url(#gradE)" />
        <Rich x={320} y={199} size={5} weight="bold" parts={[['Early']]} />
        <Rich x={320} y={254} size={5} weight="bold" parts={[['Late']]} />

        <Rich x={425} y={186} size={7.5} parts={[['R'], ['(1)', 'sup'], [' = K'], ['(1)', 'sup'], [' P'], ['ON', 'sub'], ['(1)', 'sup']]} />
        <Rich x={351} y={238} rotate parts={[['R'], ['(1)', 'sup'], [' [mRNA/min]']]} />
        <Rich x={427} y={311} size={7.5} parts={[['P'], ['ON', 'sub'], ['(1)', 'sup']]} />

        <Rich x={596} y={186} size={7.5} parts={[['K = 2K'], ['(1)', 'sup'], ['/(1+(1-P'], ['ON', 'sub'], [')'], ['1/2', 'sup'], [')']]} />
        <Rich x={519} y={238} rotate parts={[['K [mRNA/min]']]} />
        <Rich x={595} y={311} size={7.5} parts={[['P'], ['ON', 'sub']]} />
      </svg>
    </div>
  );
}
